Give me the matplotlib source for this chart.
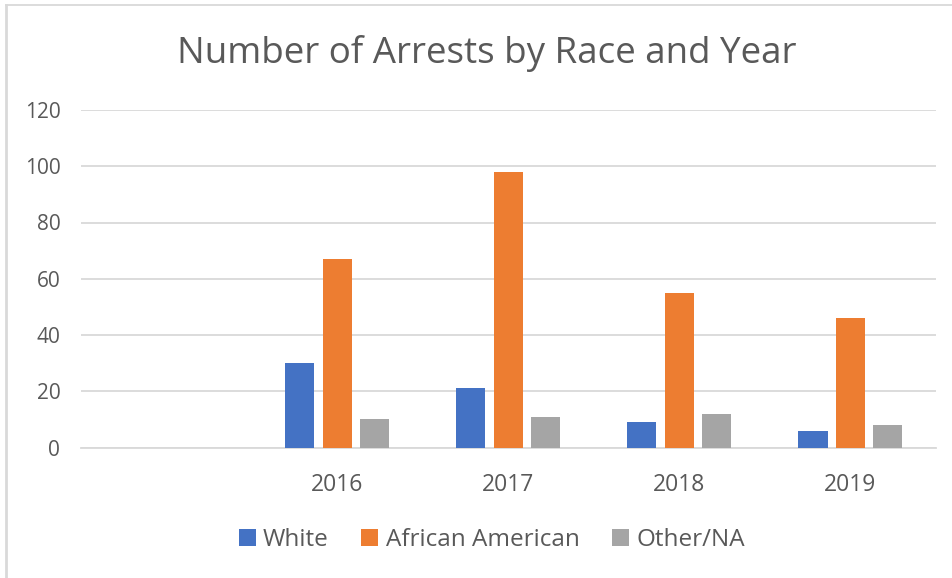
import matplotlib
matplotlib.use("Agg")
import matplotlib.pyplot as plt
from matplotlib.lines import Line2D
import numpy as np

categories = ["", "2016", "2017", "2018", "2019"]
white = [None, 30, 21, 9, 6]
african_american = [None, 67, 98, 55, 46]
other_na = [None, 10, 11, 12, 8]
series_names = ["White", "African American", "Other/NA"]
colors = ["#4472C4", "#ED7D31", "#A5A5A5"]

plt.rcParams["font.family"] = ["Open Sans", "DejaVu Sans"]

W, H = 952, 578
fig = plt.figure(figsize=(W / 100, H / 100), dpi=100)
ax = fig.add_axes([80.5 / W, 1 - 447.5 / H, (936 - 80.5) / W, (447.5 - 110) / H])

x = np.arange(len(categories))
bar_w = 0.17
step = 0.219
for i, (vals, name, c) in enumerate(zip([white, african_american, other_na], series_names, colors)):
    xs = [xi + (i - 1) * step for xi, v in zip(x, vals) if v is not None]
    vs = [v for v in vals if v is not None]
    ax.bar(xs, vs, width=bar_w, color=c, label=name, zorder=3)

ax.set_xlim(-0.5, len(categories) - 0.5)
ax.set_ylim(0, 120)
ax.set_yticks(np.arange(0, 121, 20))
ax.set_xticks(x)
ax.set_xticklabels(categories)
ax.grid(axis="y", color="#D9D9D9", linewidth=1.3, zorder=0)
for s in ["top", "right", "left"]:
    ax.spines[s].set_visible(False)
ax.spines["bottom"].set_color("#D9D9D9")
ax.spines["bottom"].set_linewidth(1.3)
ax.tick_params(axis="both", length=0, labelcolor="#595959")
ax.tick_params(axis="y", pad=14.5, labelsize=15)
ax.tick_params(axis="x", pad=18.5, labelsize=16.5)

fig.text(487 / W, 1 - 54 / H, "Number of Arrests by Race and Year", ha="center", va="center",
         fontsize=26.5, color="#595959")

leg = fig.legend(loc="center", bbox_to_anchor=(492 / W, 1 - 540 / H), ncol=3, frameon=False,
                 fontsize=17.5, handlelength=0.7, handleheight=0.7, handletextpad=0.3,
                 columnspacing=1.35, labelcolor="#595959")

# chart-area border (top and left edges)
fig.add_artist(Line2D([6 / W, 6 / W], [0, 1 - 5 / H], transform=fig.transFigure, color="#D9D9D9", linewidth=2))
fig.add_artist(Line2D([6 / W, 1], [1 - 5 / H, 1 - 5 / H], transform=fig.transFigure, color="#D9D9D9", linewidth=1.3))

fig.savefig("out.png", dpi=100)
